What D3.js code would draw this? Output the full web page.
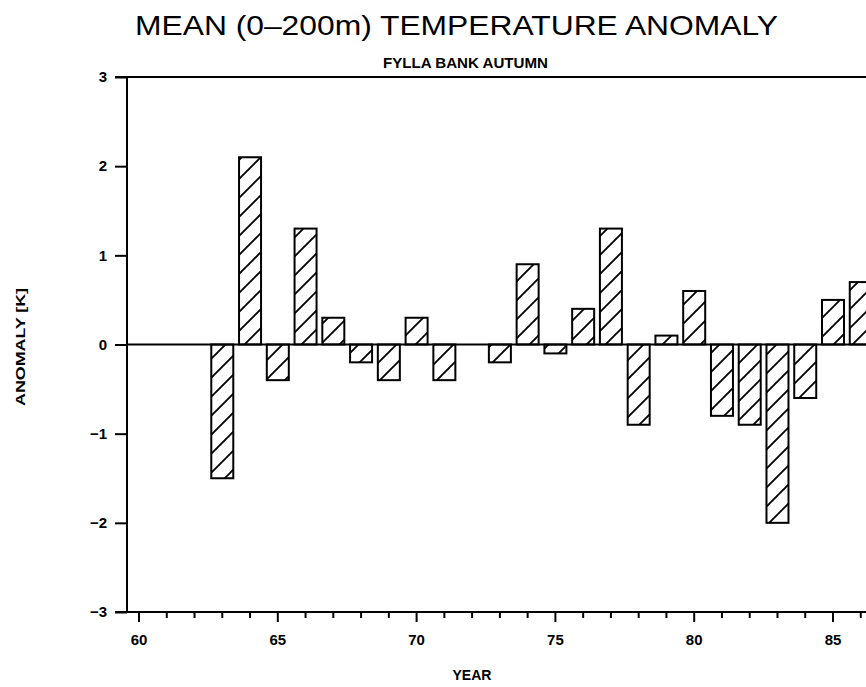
<!DOCTYPE html>
<html lang="en">
<head>
    <meta charset="UTF-8">
    <title>Mean temperature anomaly</title>
    <style>
        body { margin: 0; background: #fff; }
        svg { display: block; }
        text { font-family: "Liberation Sans", Arial, sans-serif; fill: #000; }
        .bold { font-weight: bold; }
    </style>
</head>
<body>
    <div class="canvas"></div>

    <script src="https://d3js.org/d3.v7.min.js"></script>
    <script>
        // data
        const years = [63, 64, 65, 66, 67, 68, 69, 70, 71, 73, 74, 75, 76, 77, 78, 79, 80, 81, 82, 83, 84, 85, 86];
        const anomaly = [-1.5, 2.1, -0.4, 1.3, 0.3, -0.2, -0.4, 0.3, -0.4, -0.2, 0.9, -0.1, 0.4, 1.3, -0.9, 0.1, 0.6, -0.8, -0.9, -2.0, -0.6, 0.5, 0.7];
        const yTicks = [-3, -2, -1, 0, 1, 2, 3];
        const xMajor = [60, 65, 70, 75, 80, 85];

        const data = years.map((y, i) => ({ year: y, value: anomaly[i] }));

        const W = 866, H = 687;
        const axisX = 127;

        const svg = d3.select('.canvas')
            .append('svg')
            .attr('width', W)
            .attr('height', H);

        const x = d3.scaleLinear().domain([60, 85]).range([139, 833]);
        const y = d3.scaleLinear().domain([-3, 3]).range([612, 77]);
        const barW = 22;

        // hatch pattern
        const s = 19;
        svg.append('defs').append('pattern')
            .attr('id', 'hatch')
            .attr('patternUnits', 'userSpaceOnUse')
            .attr('width', s)
            .attr('height', s)
            .append('path')
            .attr('d', `M0,${s} L${s},0 M${-s / 4},${s / 4} L${s / 4},${-s / 4} M${s * 3 / 4},${s * 5 / 4} L${s * 5 / 4},${s * 3 / 4}`)
            .attr('stroke', '#000')
            .attr('stroke-width', 1.8);

        // titles
        svg.append('text')
            .attr('x', 135).attr('y', 35)
            .attr('font-size', 28)
            .attr('textLength', 643)
            .attr('lengthAdjust', 'spacingAndGlyphs')
            .text('MEAN (0\u2013200m) TEMPERATURE ANOMALY');

        svg.append('text')
            .attr('class', 'bold')
            .attr('x', 383).attr('y', 68)
            .attr('font-size', 14)
            .attr('textLength', 165)
            .attr('lengthAdjust', 'spacingAndGlyphs')
            .text('FYLLA BANK AUTUMN');

        // bars
        svg.append('g')
            .selectAll('rect')
            .data(data)
            .enter()
            .append('rect')
            .attr('x', d => x(d.year) - barW / 2)
            .attr('y', d => y(Math.max(0, d.value)))
            .attr('width', barW)
            .attr('height', d => Math.abs(y(d.value) - y(0)))
            .attr('fill', 'url(#hatch)')
            .attr('stroke', '#000')
            .attr('stroke-width', 2);

        // zero line
        svg.append('line')
            .attr('x1', axisX).attr('x2', W)
            .attr('y1', y(0)).attr('y2', y(0))
            .attr('stroke', '#000').attr('stroke-width', 2);

        // frame: top line, left axis, bottom axis
        svg.append('line')
            .attr('x1', axisX - 12).attr('x2', W)
            .attr('y1', y(3)).attr('y2', y(3))
            .attr('stroke', '#000').attr('stroke-width', 2);

        const yAxis = svg.append('g')
            .attr('transform', `translate(${axisX},0)`)
            .call(d3.axisLeft(y).tickValues(yTicks).tickSize(12).tickPadding(8)
                .tickFormat(d => d < 0 ? '\u2212' + Math.abs(d) : d));
        yAxis.select('.domain').remove();
        yAxis.selectAll('line').attr('stroke-width', 2);
        yAxis.selectAll('text')
            .attr('class', 'bold')
            .attr('font-family', null)
            .attr('font-size', 15);
        svg.append('line')
            .attr('x1', axisX).attr('x2', axisX)
            .attr('y1', y(3)).attr('y2', y(-3))
            .attr('stroke', '#000').attr('stroke-width', 2);

        svg.append('line')
            .attr('x1', axisX - 12).attr('x2', W)
            .attr('y1', y(-3)).attr('y2', y(-3))
            .attr('stroke', '#000').attr('stroke-width', 2);

        // year ticks
        const minor = d3.range(60, 87);
        svg.append('g')
            .selectAll('line')
            .data(minor)
            .enter()
            .append('line')
            .attr('x1', d => x(d)).attr('x2', d => x(d))
            .attr('y1', y(-3))
            .attr('y2', d => y(-3) + (d % 5 === 0 ? 10 : 6))
            .attr('stroke', '#000').attr('stroke-width', 2);

        svg.append('g')
            .selectAll('text')
            .data(xMajor)
            .enter()
            .append('text')
            .attr('class', 'bold')
            .attr('x', d => x(d))
            .attr('y', 645)
            .attr('text-anchor', 'middle')
            .attr('font-size', 15)
            .text(d => d);

        // axis titles
        svg.append('text')
            .attr('class', 'bold')
            .attr('x', 472).attr('y', 680)
            .attr('text-anchor', 'middle')
            .attr('font-size', 14)
            .attr('textLength', 39)
            .attr('lengthAdjust', 'spacingAndGlyphs')
            .text('YEAR');

        svg.append('text')
            .attr('class', 'bold')
            .attr('transform', 'translate(25,347) rotate(-90)')
            .attr('text-anchor', 'middle')
            .attr('font-size', 13)
            .attr('textLength', 118)
            .attr('lengthAdjust', 'spacingAndGlyphs')
            .text('ANOMALY [K]');
    </script>
</body>
</html>
